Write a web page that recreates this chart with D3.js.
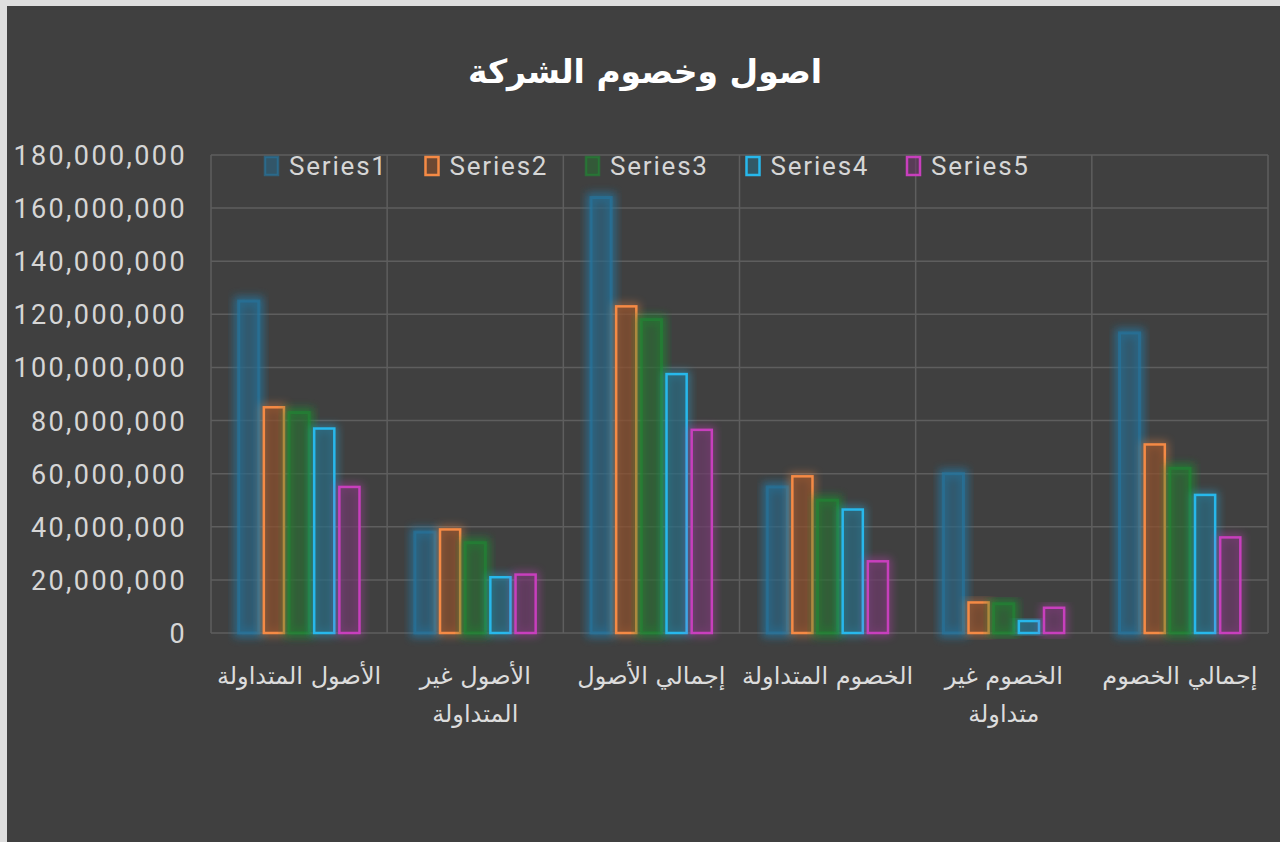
<!DOCTYPE html>
<html>
<head>
<meta charset="utf-8">
<script src="https://cdn.jsdelivr.net/npm/d3@7"></script>
<style>
  html, body { margin: 0; padding: 0; background: #dedede; }
  #chart { position: absolute; left: 7px; top: 6px; width: 1273px; height: 836px; background: #404040; }
  .axis-text { fill: #d6d6d6; font-family: Roboto, "Liberation Sans", sans-serif; font-size: 27px; letter-spacing: 2.4px; }
  .cat-text { fill: #dcdcdc; font-family: "DejaVu Sans", sans-serif; font-size: 24px; }
  .legend-text { fill: #d6d6d6; font-family: Roboto, "Liberation Sans", sans-serif; font-size: 26px; letter-spacing: 1.8px; }
  .title { fill: #ffffff; font-family: "DejaVu Sans", sans-serif; font-weight: bold; font-size: 33px; }
</style>
</head>
<body>
<div id="chart"></div>
<script>
// data
const categories = [
  "الأصول المتداولة",
  "الأصول غير\nالمتداولة",
  "إجمالي الأصول",
  "الخصوم المتداولة",
  "الخصوم غير\nمتداولة",
  "إجمالي الخصوم"
];
const seriesNames = ["Series1", "Series2", "Series3", "Series4", "Series5"];
const series1 = [125000000, 38000000, 164000000, 55000000, 60000000, 113000000];
const series2 = [85000000, 39000000, 123000000, 59000000, 11500000, 71000000];
const series3 = [83000000, 34000000, 118000000, 50000000, 11000000, 62000000];
const series4 = [77000000, 21000000, 97500000, 46500000, 4500000, 52000000];
const series5 = [55000000, 22000000, 76500000, 27000000, 9500000, 36000000];
const yTicks = [0, 20000000, 40000000, 60000000, 80000000, 100000000, 120000000, 140000000, 160000000, 180000000];
const titleText = "اصول وخصوم الشركة";

const allSeries = [series1, series2, series3, series4, series5];

// colours: outline, fill, whether the outline is bright or only glowing
const styles = [
  {stroke: "#2478a4", fill: "#2a6585", bright: false},
  {stroke: "#f58a45", fill: "#8a4f2c", bright: true},
  {stroke: "#1f8a33", fill: "#2b6a33", bright: false},
  {stroke: "#27b8ec", fill: "#2a6a80", bright: true},
  {stroke: "#c83fbd", fill: "#6b3a68", bright: true}
];

const W = 1273, H = 836;
// plot area (chart div sits at 7,6 on the page)
const margin = {top: 149, right: 12, bottom: 209, left: 204};
const width = W - margin.left - margin.right,
      height = H - margin.top - margin.bottom;

const svgRoot = d3.select("#chart").append("svg")
  .attr("width", W)
  .attr("height", H);

// glow filter
const defs = svgRoot.append("defs");
const glow = defs.append("filter")
  .attr("id", "glow")
  .attr("x", "-50%").attr("y", "-20%")
  .attr("width", "200%").attr("height", "140%");
glow.append("feGaussianBlur").attr("stdDeviation", 4);

// title
svgRoot.append("text")
  .attr("class", "title")
  .attr("x", 638)
  .attr("y", 77)
  .attr("text-anchor", "middle")
  .text(titleText);

const svg = svgRoot.append("g")
  .attr("transform", "translate(" + margin.left + "," + margin.top + ")");

const xScale = d3.scaleBand()
  .domain(categories)
  .range([0, width])
  .padding(0);

const xInner = d3.scaleBand()
  .domain(seriesNames)
  .range([0, xScale.bandwidth()])
  .paddingInner(0.2)
  .paddingOuter(1.1);

const yScale = d3.scaleLinear()
  .domain([0, 180000000])
  .range([height, 0]);

// horizontal grid
svg.append("g")
  .selectAll("line")
  .data(yTicks)
  .enter()
  .append("line")
  .attr("x1", 0).attr("x2", width)
  .attr("y1", d => yScale(d)).attr("y2", d => yScale(d))
  .style("stroke", "#5e5e5e")
  .style("stroke-width", 1.5);

// vertical grid at category boundaries
const bounds = categories.map(c => xScale(c)).concat([width]);
svg.append("g")
  .selectAll("line")
  .data(bounds)
  .enter()
  .append("line")
  .attr("x1", d => d).attr("x2", d => d)
  .attr("y1", 0).attr("y2", height)
  .style("stroke", "#5e5e5e")
  .style("stroke-width", 1.5);

// y axis labels
const yAxis = d3.axisLeft(yScale)
  .tickValues(yTicks)
  .tickSize(0)
  .tickPadding(24)
  .tickFormat(d3.format(","));
const yg = svg.append("g").call(yAxis);
yg.select(".domain").remove();
yg.selectAll("text")
  .attr("class", "axis-text")
  .attr("dy", "0.35em");

// bars
allSeries.forEach((vals, si) => {
  const st = styles[si];
  const g = svg.append("g");
  const rows = categories.map((c, i) => ({cat: c, v: vals[i]}));

  // glow layer
  g.selectAll(".glow")
    .data(rows)
    .enter()
    .append("rect")
    .attr("x", d => xScale(d.cat) + xInner(seriesNames[si]))
    .attr("y", d => yScale(d.v))
    .attr("width", xInner.bandwidth())
    .attr("height", d => height - yScale(d.v))
    .style("fill", "none")
    .style("stroke", st.stroke)
    .style("stroke-width", st.bright ? 6 : 9)
    .style("opacity", st.bright ? 0.5 : 0.75)
    .attr("filter", "url(#glow)");

  g.selectAll(".bar")
    .data(rows)
    .enter()
    .append("rect")
    .attr("x", d => xScale(d.cat) + xInner(seriesNames[si]))
    .attr("y", d => yScale(d.v))
    .attr("width", xInner.bandwidth())
    .attr("height", d => height - yScale(d.v))
    .style("fill", st.fill)
    .style("fill-opacity", st.bright ? 0.7 : 0.6)
    .style("stroke", st.stroke)
    .style("stroke-width", st.bright ? 2.5 : 3)
    .style("stroke-opacity", st.bright ? 1 : 0.55);
});

// category labels
const catG = svg.append("g");
categories.forEach(c => {
  const lines = c.split("\n");
  const cx = xScale(c) + xScale.bandwidth() / 2;
  const t = catG.append("text")
    .attr("class", "cat-text")
    .attr("text-anchor", "middle")
    .attr("direction", "rtl")
    .attr("x", cx)
    .attr("y", height + 51);
  lines.forEach((l, i) => {
    t.append("tspan")
      .attr("x", cx)
      .attr("dy", i === 0 ? 0 : 38)
      .text(l);
  });
});

// legend
const legend = svg.append("g")
  .attr("transform", "translate(54, 2)");
seriesNames.forEach((s, i) => {
  const lg = legend.append("g")
    .attr("transform", "translate(" + (i * 160.5) + ",0)");
  lg.append("rect")
    .attr("x", 0).attr("y", 0)
    .attr("width", 13).attr("height", 18)
    .style("fill", styles[i].fill)
    .style("fill-opacity", 0.6)
    .style("stroke", styles[i].stroke)
    .style("stroke-width", 2.5)
    .style("stroke-opacity", styles[i].bright ? 1 : 0.6);
  lg.append("text")
    .attr("class", "legend-text")
    .attr("x", 24)
    .attr("y", 18)
    .text(s);
});
</script>
</body>
</html>
